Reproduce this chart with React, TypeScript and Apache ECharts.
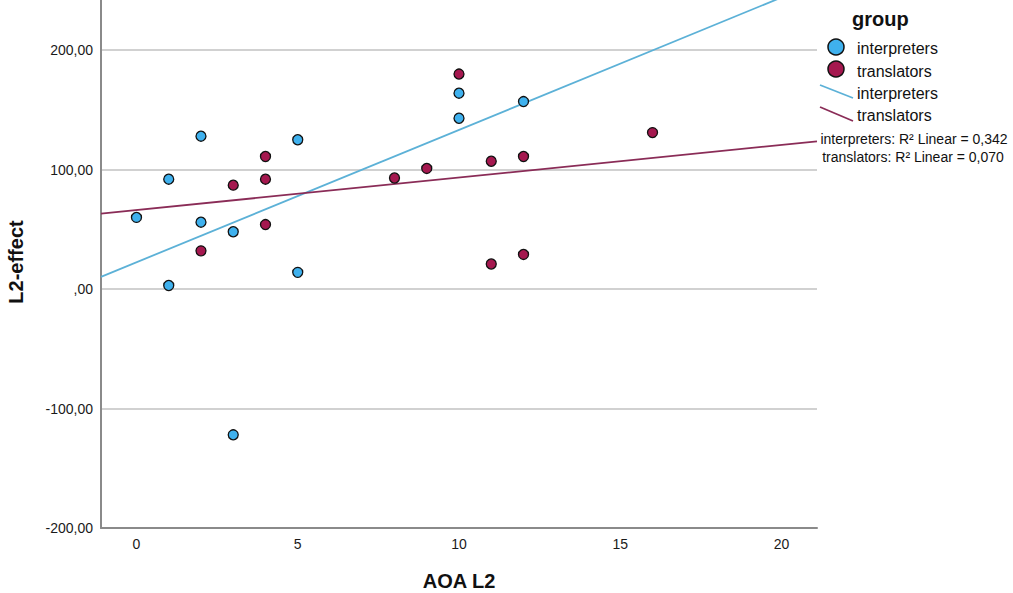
import React, { useEffect, useRef } from "react";
import * as echarts from "echarts";

// ---- data ----
const interpretersX = [0, 1, 1, 2, 2, 3, 3, 5, 5, 10, 10, 12];
const interpretersY = [60, 92, 3, 128, 56, 48, -122, 125, 14, 164, 143, 157];
const translatorsX = [2, 3, 4, 4, 4, 8, 9, 10, 11, 11, 12, 12, 16];
const translatorsY = [32, 87, 111, 92, 54, 93, 101, 180, 107, 21, 111, 29, 131];
const groupNames = ["interpreters", "translators"];
const r2Labels = ["0,342", "0,070"];
const xRange = [-1.1, 21.1];
const yRange = [-200, 242];

const FONT = "'Liberation Sans', Arial, Helvetica, sans-serif";
const BLUE = "#3fb1ee";
const RED = "#a5184f";
const BLUE_LINE = "#5cb1d7";
const RED_LINE = "#8a2c57";

function fit(xs: number[], ys: number[]) {
  const n = xs.length;
  const mx = xs.reduce((a, b) => a + b, 0) / n;
  const my = ys.reduce((a, b) => a + b, 0) / n;
  let sxy = 0;
  let sxx = 0;
  for (let i = 0; i < n; i++) {
    sxy += (xs[i] - mx) * (ys[i] - my);
    sxx += (xs[i] - mx) * (xs[i] - mx);
  }
  const b = sxy / sxx;
  const a = my - b * mx;
  return xRange.map((x) => [x, a + b * x]);
}

export default function App() {
  const ref = useRef<HTMLDivElement>(null);
  useEffect(() => {
    if (!ref.current) return;
    const chart = echarts.init(ref.current, undefined, { renderer: "svg" });
    const pts = (xs: number[], ys: number[]) => xs.map((x, i) => [x, ys[i]]);
    chart.setOption({
      animation: false,
      backgroundColor: "#ffffff",
      grid: { left: 101, right: 196, top: 0, bottom: 65 },
      xAxis: {
        type: "value",
        min: xRange[0],
        max: xRange[1],
        splitNumber: 5,
        axisLine: { show: true, onZero: false, lineStyle: { color: "#8a8a8a", width: 2 } },
        axisTick: { show: false },
        splitLine: { show: false },
        axisLabel: {
          showMinLabel: false,
          showMaxLabel: false,
          margin: 9,
          color: "#1a1a1a",
          fontSize: 14,
          fontFamily: FONT,
          formatter: (v: number) => (Math.abs(v % 5) < 1e-9 ? String(v) : ""),
        },
      },
      yAxis: {
        type: "value",
        min: yRange[0],
        max: yRange[1],
        interval: 100,
        axisLine: { show: true, onZero: false, lineStyle: { color: "#8a8a8a", width: 2 } },
        axisTick: { show: false },
        splitLine: {
          show: true,
          showMinLine: false,
          showMaxLine: false,
          lineStyle: { color: "#c2c2c2", width: 1.5 },
        },
        axisLabel: {
          showMaxLabel: false,
          margin: 8,
          color: "#1a1a1a",
          fontSize: 14,
          fontFamily: FONT,
          formatter: (v: number) => {
            if (Math.abs(v % 100) > 1e-9) return "";
            if (v === 0) return ",00";
            return v.toFixed(2).replace(".", ",");
          },
        },
      },
      series: [
        {
          type: "line",
          name: groupNames[0] + " fit",
          data: fit(interpretersX, interpretersY),
          showSymbol: false,
          symbol: "none",
          clip: true,
          silent: true,
          z: 2,
          lineStyle: { color: BLUE_LINE, width: 1.8 },
        },
        {
          type: "line",
          name: groupNames[1] + " fit",
          data: fit(translatorsX, translatorsY),
          showSymbol: false,
          symbol: "none",
          clip: true,
          silent: true,
          z: 2,
          lineStyle: { color: RED_LINE, width: 1.8 },
        },
        {
          type: "scatter",
          name: groupNames[0],
          data: pts(interpretersX, interpretersY),
          symbol: "circle",
          symbolSize: 10,
          z: 3,
          itemStyle: { color: BLUE, borderColor: "#111", borderWidth: 1.3, opacity: 1 },
        },
        {
          type: "scatter",
          name: groupNames[1],
          data: pts(translatorsX, translatorsY),
          symbol: "circle",
          symbolSize: 10,
          z: 3,
          itemStyle: { color: RED, borderColor: "#111", borderWidth: 1.3, opacity: 1 },
        },
      ],
      graphic: [
        {
          type: "text",
          x: 16,
          y: 262,
          rotation: Math.PI / 2,
          style: {
            text: "L2-effect",
            font: `bold 20px ${FONT}`,
            fill: "#111",
            align: "center",
            verticalAlign: "middle",
          },
        },
        {
          type: "text",
          x: 459,
          y: 581,
          style: {
            text: "AOA L2",
            font: `bold 20px ${FONT}`,
            fill: "#111",
            align: "center",
            verticalAlign: "middle",
          },
        },
        {
          type: "text",
          x: 852,
          y: 19,
          style: {
            text: "group",
            font: `bold 20px ${FONT}`,
            fill: "#111",
            align: "left",
            verticalAlign: "middle",
          },
        },
        {
          type: "circle",
          shape: { cx: 836, cy: 47, r: 8 },
          style: { fill: BLUE, stroke: "#111", lineWidth: 1.5 },
        },
        {
          type: "circle",
          shape: { cx: 836, cy: 69, r: 8 },
          style: { fill: RED, stroke: "#111", lineWidth: 1.5 },
        },
        {
          type: "line",
          shape: { x1: 820, y1: 85, x2: 853, y2: 98 },
          style: { stroke: BLUE_LINE, lineWidth: 1.8 },
        },
        {
          type: "line",
          shape: { x1: 820, y1: 107, x2: 853, y2: 121 },
          style: { stroke: RED_LINE, lineWidth: 1.8 },
        },
        {
          type: "text",
          x: 857,
          y: 48,
          style: { text: groupNames[0], font: `16px ${FONT}`, fill: "#111", align: "left", verticalAlign: "middle" },
        },
        {
          type: "text",
          x: 857,
          y: 71,
          style: { text: groupNames[1], font: `16px ${FONT}`, fill: "#111", align: "left", verticalAlign: "middle" },
        },
        {
          type: "text",
          x: 857,
          y: 93,
          style: { text: groupNames[0], font: `16px ${FONT}`, fill: "#111", align: "left", verticalAlign: "middle" },
        },
        {
          type: "text",
          x: 857,
          y: 115,
          style: { text: groupNames[1], font: `16px ${FONT}`, fill: "#111", align: "left", verticalAlign: "middle" },
        },
        {
          type: "text",
          x: 914,
          y: 139,
          style: {
            text: `${groupNames[0]}: R² Linear = ${r2Labels[0]}`,
            font: `14px ${FONT}`,
            fill: "#111",
            align: "center",
            verticalAlign: "middle",
          },
        },
        {
          type: "text",
          x: 913,
          y: 157,
          style: {
            text: `${groupNames[1]}: R² Linear = ${r2Labels[1]}`,
            font: `14px ${FONT}`,
            fill: "#111",
            align: "center",
            verticalAlign: "middle",
          },
        },
      ],
    });
    return () => chart.dispose();
  }, []);
  return (
    <div
      ref={ref}
      style={{ position: "fixed", left: 0, top: 0, width: 1013, height: 593, background: "#fff" }}
    />
  );
}
